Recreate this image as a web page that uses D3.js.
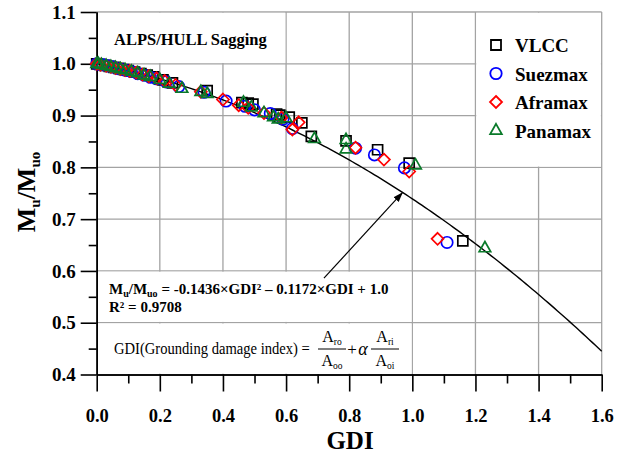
<!DOCTYPE html>
<html><head><meta charset="utf-8">
<script src="https://cdn.jsdelivr.net/npm/d3@7"></script>
<style>html,body{margin:0;padding:0;background:#fff;} svg{display:block;}</style>
</head><body>
<svg id="chart" width="625" height="457"></svg>
<script>
// ---- axis ticks ----
const xMajorTicks = [0.0, 0.2, 0.4, 0.6, 0.8, 1.0, 1.2, 1.4, 1.6];
const xMinorTicks = [0.1, 0.3, 0.5, 0.7, 0.9, 1.1, 1.3, 1.5];
const yMajorTicks = [0.4, 0.5, 0.6, 0.7, 0.8, 0.9, 1.0, 1.1];
const yMinorTicks = [0.45, 0.55, 0.65, 0.75, 0.85, 0.95, 1.05];

// ---- ship types ----
const seriesNames = ["VLCC", "Suezmax", "Aframax", "Panamax"];

const vlccGDI = [0.00,0.01,0.025,0.04,0.055,0.07,0.085,0.10,0.12,0.14,0.16,0.18,0.21,0.24,0.35,0.46,0.48,0.495,0.57,0.58,0.61,0.65,0.68,0.79,0.89,0.99,1.16];
const vlccMu  = [1.000,0.999,0.997,0.995,0.993,0.991,0.989,0.987,0.984,0.981,0.978,0.975,0.969,0.963,0.948,0.925,0.924,0.922,0.903,0.901,0.897,0.886,0.860,0.851,0.834,0.808,0.658];

const suezGDI = [0.00,0.008,0.02,0.035,0.05,0.065,0.08,0.095,0.11,0.13,0.15,0.17,0.19,0.22,0.26,0.34,0.41,0.47,0.50,0.55,0.59,0.62,0.82,0.88,0.975,1.11];
const suezMu  = [1.000,0.999,0.998,0.996,0.994,0.991,0.989,0.987,0.985,0.981,0.978,0.974,0.971,0.965,0.956,0.945,0.928,0.918,0.911,0.904,0.893,0.875,0.837,0.824,0.799,0.655];

const afraGDI = [0.00,0.012,0.03,0.045,0.06,0.075,0.09,0.105,0.125,0.145,0.165,0.19,0.215,0.25,0.33,0.40,0.45,0.48,0.53,0.585,0.62,0.64,0.82,0.91,0.99,1.08];
const afraMu  = [1.000,0.998,0.996,0.994,0.992,0.990,0.988,0.986,0.983,0.979,0.976,0.972,0.967,0.959,0.946,0.931,0.920,0.915,0.905,0.896,0.873,0.887,0.838,0.815,0.792,0.662];

const panaGDI = [0.00,0.005,0.015,0.03,0.045,0.06,0.075,0.09,0.11,0.13,0.15,0.17,0.20,0.23,0.27,0.33,0.35,0.465,0.49,0.53,0.56,0.575,0.60,0.69,0.79,0.79,1.01,1.23];
const panaMu  = [1.000,1.000,0.998,0.996,0.994,0.992,0.990,0.988,0.985,0.982,0.978,0.975,0.969,0.962,0.952,0.946,0.942,0.925,0.916,0.905,0.897,0.893,0.895,0.855,0.853,0.835,0.804,0.644];

// quadratic fit  Mu/Muo = c0 + c1*GDI + c2*GDI^2
const fitC0 = 1.0, fitC1 = -0.1172, fitC2 = -0.1436;
const fitR2 = 0.9708;

// ---- layout ----
const svg = d3.select("#chart");
const x = d3.scaleLinear().domain([0, 1.6]).range([96.7, 601.7]);
const y = d3.scaleLinear().domain([0.4, 1.1]).range([374.5, 12]);
const serif = "'Liberation Serif','Times New Roman',Times,serif";
const gridColor = "#a3a3a3";

// grid
const grid = svg.append("g");
grid.selectAll("line.v").data(xMajorTicks.filter(d => d > 0)).join("line")
  .attr("x1", d => x(d)).attr("x2", d => x(d))
  .attr("y1", y(1.1)).attr("y2", y(0.4))
  .attr("stroke", gridColor).attr("stroke-width", 1.3);
grid.selectAll("line.h").data(yMajorTicks.filter(d => d > 0.4)).join("line")
  .attr("x1", x(0)).attr("x2", x(1.6))
  .attr("y1", d => y(d)).attr("y2", d => y(d))
  .attr("stroke", gridColor).attr("stroke-width", 1.3);

// white panels (title, legend, equations) sit over the grid cells
function panel(x0, x1, y0, y1) {
  const inset = 0.8;
  svg.append("rect")
    .attr("x", x(x0) + inset).attr("y", y(y1) + inset)
    .attr("width", x(x1) - x(x0) - 2 * inset)
    .attr("height", y(y0) - y(y1) - 2 * inset)
    .attr("fill", "#fff");
}
panel(0, 0.6, 1.0, 1.1);
panel(1.2, 1.6, 0.8, 1.1);
panel(0, 1.0, 0.5, 0.6);
panel(0, 1.0, 0.4, 0.5);

// axes
function styleAxis(g) {
  g.select(".domain").attr("stroke", "#000").attr("stroke-width", 1.6);
  g.selectAll(".tick line").attr("stroke", "#000").attr("stroke-width", 1.6);
  g.selectAll(".tick text").attr("font-family", serif).attr("font-weight", "bold")
    .attr("font-size", 18.5).attr("fill", "#000");
}
const xAxisG = svg.append("g").attr("transform", `translate(0,${y(0.4)})`)
  .call(d3.axisBottom(x).tickValues(xMajorTicks).tickSize(17).tickSizeOuter(0)
    .tickPadding(17).tickFormat(d3.format(".1f")));
styleAxis(xAxisG);
const xMinorG = svg.append("g").attr("transform", `translate(0,${y(0.4)})`)
  .call(d3.axisBottom(x).tickValues(xMinorTicks).tickSize(9).tickSizeOuter(0).tickFormat(""));
styleAxis(xMinorG);

const yAxisG = svg.append("g").attr("transform", `translate(${x(0)},0)`)
  .call(d3.axisLeft(y).tickValues(yMajorTicks).tickSize(16).tickSizeOuter(0)
    .tickPadding(5).tickFormat(d3.format(".1f")));
styleAxis(yAxisG);
yAxisG.selectAll(".tick text").attr("font-size", 19);
const yMinorG = svg.append("g").attr("transform", `translate(${x(0)},0)`)
  .call(d3.axisLeft(y).tickValues(yMinorTicks).tickSize(8).tickSizeOuter(0).tickFormat(""));
styleAxis(yMinorG);

// fitted curve
const curveGDI = d3.range(0, 1.6001, 0.01);
svg.append("path")
  .datum(curveGDI)
  .attr("d", d3.line().x(d => x(d)).y(d => y(fitC0 + fitC1 * d + fitC2 * d * d)))
  .attr("fill", "none").attr("stroke", "#000").attr("stroke-width", 1.4);

// marker shapes
const shapes = {
  square: "M-5,-5h10v10h-10Z",
  circle: "M5.7,0A5.7,5.7 0 1 1 -5.7,0A5.7,5.7 0 1 1 5.7,0Z",
  diamond: "M0,-6L6,0L0,6L-6,0Z",
  triangle: "M0,-6.6L5.8,3.6L-5.8,3.6Z"
};
const series = [
  { name: seriesNames[0], gdi: vlccGDI, mu: vlccMu, shape: "square",   color: "#000000" },
  { name: seriesNames[1], gdi: suezGDI, mu: suezMu, shape: "circle",   color: "#0000ff" },
  { name: seriesNames[2], gdi: afraGDI, mu: afraMu, shape: "diamond",  color: "#ff0000" },
  { name: seriesNames[3], gdi: panaGDI, mu: panaMu, shape: "triangle", color: "#0a7a2a" }
];

series.forEach(s => {
  svg.append("g").selectAll("path").data(s.gdi.map((g, i) => [g, s.mu[i]])).join("path")
    .attr("d", shapes[s.shape])
    .attr("transform", d => `translate(${x(d[0])},${y(d[1])})`)
    .attr("fill", "none").attr("stroke", s.color).attr("stroke-width", 1.7);
});

// title
svg.append("text").attr("x", 114).attr("y", 45)
  .attr("font-family", serif).attr("font-weight", "bold").attr("font-size", 16.5)
  .text("ALPS/HULL Sagging");

// legend
const legend = svg.append("g");
series.forEach((s, i) => {
  const cy = 45 + i * 28.5;
  legend.append("path").attr("d", shapes[s.shape])
    .attr("transform", `translate(496,${cy})`)
    .attr("fill", "none").attr("stroke", s.color).attr("stroke-width", 1.8);
  legend.append("text").attr("x", 515).attr("y", cy + 7)
    .attr("font-family", serif).attr("font-weight", "bold").attr("font-size", 19)
    .text(s.name);
});

// axis titles
svg.append("text").attr("x", 350).attr("y", 449).attr("text-anchor", "middle")
  .attr("font-family", serif).attr("font-weight", "bold").attr("font-size", 25)
  .text("GDI");
const yTitle = svg.append("text").attr("transform", "translate(35,192) rotate(-90)")
  .attr("text-anchor", "middle")
  .attr("font-family", serif).attr("font-weight", "bold").attr("font-size", 26);
yTitle.append("tspan").text("M");
yTitle.append("tspan").attr("font-size", 15).attr("dy", 5).text("u");
yTitle.append("tspan").attr("dy", -5).text("/M");
yTitle.append("tspan").attr("font-size", 15).attr("dy", 5).text("uo");

// regression equation (plain hyphen for the leading sign)
const fmt4 = v => d3.format(".4f")(v).replace("\u2212", "-");
const eq = svg.append("text").attr("x", 109).attr("y", 294)
  .attr("font-family", serif).attr("font-weight", "bold").attr("font-size", 15);
eq.append("tspan").text("M");
eq.append("tspan").attr("font-size", 10).attr("dy", 3).text("u");
eq.append("tspan").attr("dy", -3).text("/M");
eq.append("tspan").attr("font-size", 10).attr("dy", 3).text("uo");
eq.append("tspan").attr("dy", -3)
  .text(` = ${fmt4(fitC2)}\u00d7GDI\u00b2 \u2013 ${fmt4(-fitC1)}\u00d7GDI + ${d3.format(".1f")(fitC0)}`);
svg.append("text").attr("x", 109).attr("y", 312)
  .attr("font-family", serif).attr("font-weight", "bold").attr("font-size", 15)
  .text(`R\u00b2 = ${fmt4(fitR2)}`);

// arrow from the equation to the fitted curve
svg.append("defs").append("marker").attr("id", "arrowHead")
  .attr("viewBox", "0 0 10 10").attr("refX", 10).attr("refY", 5)
  .attr("markerWidth", 10).attr("markerHeight", 10).attr("markerUnits", "userSpaceOnUse")
  .attr("orient", "auto")
  .append("path").attr("d", "M0,1.5L10,5L0,8.5Z").attr("fill", "#000");
svg.append("line")
  .attr("x1", x(0.72)).attr("y1", y(0.586))
  .attr("x2", x(0.97)).attr("y2", y(0.752))
  .attr("stroke", "#000").attr("stroke-width", 1.2)
  .attr("marker-end", "url(#arrowHead)");

// damage index definition, slightly tall lettering
svg.append("text").attr("transform", "translate(114,354) scale(1,1.18)")
  .attr("font-family", serif).attr("font-size", 14.6)
  .text("GDI(Grounding damage index) =");

function fraction(cx, numSub, denSub) {
  const g = svg.append("g");
  const num = g.append("text").attr("x", cx).attr("y", 342).attr("text-anchor", "middle")
    .attr("font-family", serif).attr("font-size", 16);
  num.append("tspan").text("A");
  num.append("tspan").attr("font-size", 9.5).attr("dy", 2.5).text(numSub);
  g.append("line").attr("x1", cx - 14).attr("x2", cx + 14).attr("y1", 349).attr("y2", 349)
    .attr("stroke", "#000").attr("stroke-width", 1);
  const den = g.append("text").attr("x", cx).attr("y", 366).attr("text-anchor", "middle")
    .attr("font-family", serif).attr("font-size", 16);
  den.append("tspan").text("A");
  den.append("tspan").attr("font-size", 9.5).attr("dy", 2.5).text(denSub);
}
fraction(332, "ro", "oo");
svg.append("text").attr("x", 352).attr("y", 355).attr("text-anchor", "middle")
  .attr("font-family", serif).attr("font-size", 17).text("+");
svg.append("text").attr("x", 363).attr("y", 355).attr("text-anchor", "middle")
  .attr("font-family", serif).attr("font-style", "italic").attr("font-size", 18).text("\u03b1");
fraction(385, "ri", "oi");
</script>
</body></html>
